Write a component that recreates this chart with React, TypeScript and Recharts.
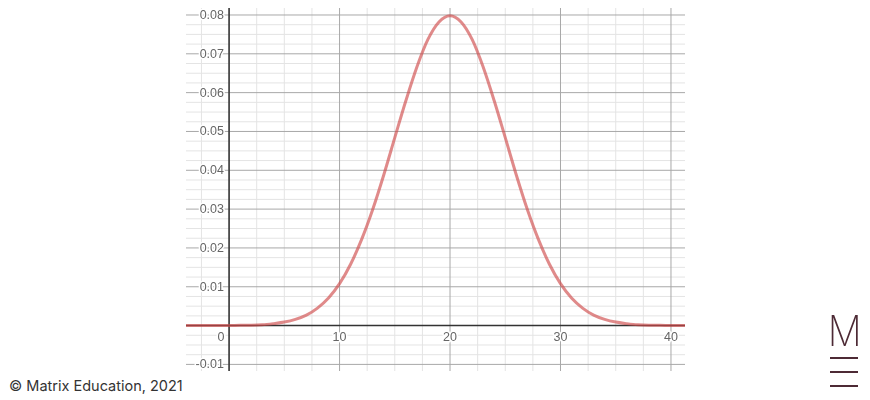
import React from 'react';
import { ComposedChart, Line, XAxis, YAxis, CartesianGrid, ReferenceLine } from 'recharts';

const xValues = [-4, -3, -2, -1, 0, 1, 2, 3, 4, 5, 6, 7, 8, 9, 10, 11, 12, 13, 14, 15, 16, 17, 18, 19, 20, 21, 22, 23, 24, 25, 26, 27, 28, 29, 30, 31, 32, 33, 34, 35, 36, 37, 38, 39, 40, 41, 42];
const density = [0, 0, 0, 0, 0, 0.0001, 0.0001, 0.0002, 0.0005, 0.0009, 0.0016, 0.0027, 0.0045, 0.0071, 0.0108, 0.0158, 0.0222, 0.0299, 0.0388, 0.0484, 0.0579, 0.0666, 0.0737, 0.0782, 0.0798, 0.0782, 0.0737, 0.0666, 0.0579, 0.0484, 0.0388, 0.0299, 0.0222, 0.0158, 0.0108, 0.0071, 0.0045, 0.0027, 0.0016, 0.0009, 0.0005, 0.0002, 0.0001, 0.0001, 0, 0, 0];

const xMajor = [0, 10, 20, 30, 40];
const xMinor = [-2.5, 2.5, 5, 7.5, 12.5, 15, 17.5, 22.5, 25, 27.5, 32.5, 35, 37.5];
const yMajor = [-0.01, 0.01, 0.02, 0.03, 0.04, 0.05, 0.06, 0.07, 0.08];
const yMinor = [-0.0075, -0.005, -0.0025, 0.0025, 0.005, 0.0075, 0.0125, 0.015, 0.0175, 0.0225, 0.025, 0.0275, 0.0325, 0.035, 0.0375, 0.0425, 0.045, 0.0475, 0.0525, 0.055, 0.0575, 0.0625, 0.065, 0.0675, 0.0725, 0.075, 0.0775];

const chartData = xValues.map((x, i) => ({ x, y: density[i] }));

const LOGO = '#4d2a35';
const TICK = '#666';

// white halo so the grid lines stop short of the labels
const haloStyle: React.CSSProperties = { paintOrder: 'stroke', stroke: '#fff', strokeWidth: 3, strokeLinejoin: 'round' };

// tick labels sit inside the plot, next to the axes at zero
// eslint-disable-next-line @typescript-eslint/no-explicit-any
function XTick({ x, y, payload }: any) {
    const shift = payload.value === 0 ? -8 : 0;
    return (
        <text x={x + shift} y={y - 38} textAnchor="middle" fontSize={12.5} fontFamily="Liberation Sans" fill={TICK} style={haloStyle}>
            {payload.value}
        </text>
    );
}

// eslint-disable-next-line @typescript-eslint/no-explicit-any
function YTick({ x, y, payload }: any) {
    return (
        <text x={x + 46} y={y + 4} textAnchor="end" fontSize={12.5} fontFamily="Liberation Sans" fill={TICK} style={haloStyle}>
            {payload.value}
        </text>
    );
}

export default function App() {
    return (
        <div style={{ position: 'absolute', left: 0, top: 0, width: 870, height: 400, background: '#fff', overflow: 'hidden' }}>
            <div style={{ position: 'absolute', left: 0, top: 0, filter: 'blur(0.5px)' }}>
                <ComposedChart
                    width={870}
                    height={400}
                    data={chartData}
                    margin={{ top: 8, right: 185, bottom: 28, left: 185 }}
                >
                    <CartesianGrid stroke="#e4e4e4" strokeWidth={1} horizontalValues={yMinor} verticalValues={xMinor} />
                    <CartesianGrid stroke="#a8a8a8" strokeWidth={1} horizontalValues={yMajor} verticalValues={xMajor} />
                    <XAxis
                        type="number"
                        dataKey="x"
                        domain={[-3.9, 41.27]}
                        allowDataOverflow
                        ticks={xMajor}
                        interval={0}
                        height={1}
                        axisLine={false}
                        tickLine={false}
                        tick={<XTick />}
                    />
                    <YAxis
                        type="number"
                        domain={[-0.0117, 0.0818]}
                        allowDataOverflow
                        ticks={yMajor}
                        interval={0}
                        width={1}
                        axisLine={false}
                        tickLine={false}
                        tick={<YTick />}
                    />
                    <ReferenceLine x={0} stroke="#333" strokeWidth={1.5} />
                    <ReferenceLine y={0} stroke="#333" strokeWidth={1.5} />
                    <Line
                        type="monotone"
                        dataKey="y"
                        stroke="#cf4b4b"
                        strokeOpacity={0.65}
                        strokeWidth={3}
                        dot={false}
                        isAnimationActive={false}
                    />
                </ComposedChart>
            </div>
            <div style={{ position: 'absolute', left: 9, top: 377, fontFamily: 'Inter', fontSize: 14.5, color: '#333', whiteSpace: 'nowrap' }}>
                © Matrix Education, 2021
            </div>
            <div style={{ position: 'absolute', left: 826, top: 306, width: 36, textAlign: 'center', fontFamily: 'Inter', fontWeight: 200, fontSize: 42, lineHeight: '50px', color: LOGO, transform: 'scaleX(0.9)' }}>
                M
            </div>
            <div style={{ position: 'absolute', left: 830, top: 357, width: 28, height: 2, background: LOGO }} />
            <div style={{ position: 'absolute', left: 830, top: 371, width: 28, height: 2, background: LOGO }} />
            <div style={{ position: 'absolute', left: 830, top: 385, width: 28, height: 2, background: LOGO }} />
        </div>
    );
}
